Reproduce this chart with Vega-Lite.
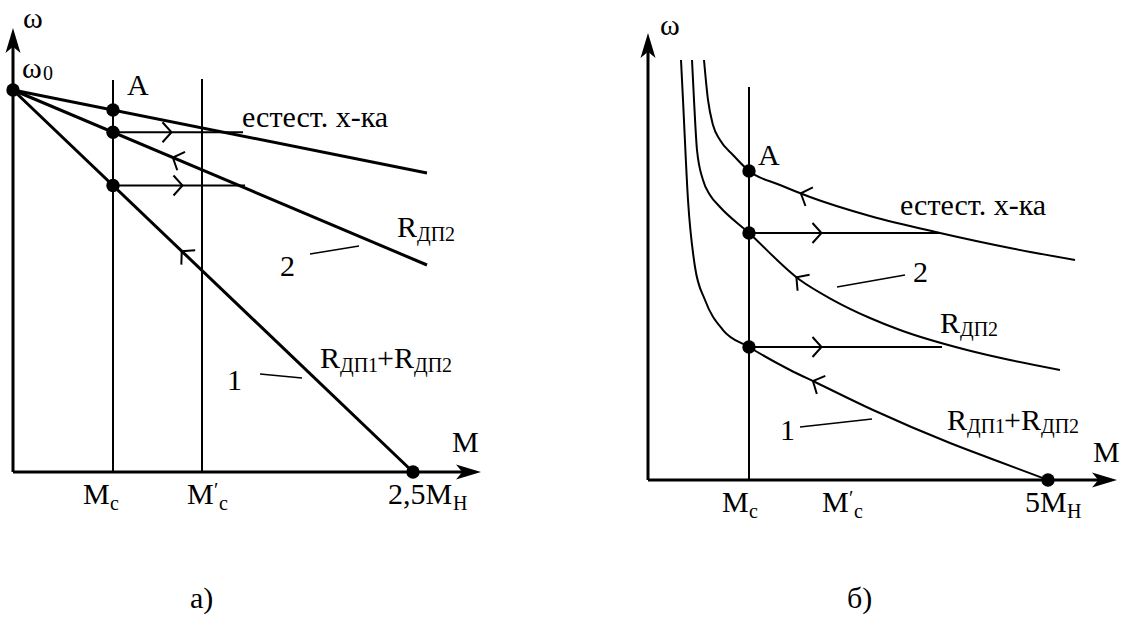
{
  "$schema": "https://vega.github.io/schema/vega-lite/v6.json",
  "padding": 0,
  "spacing": 0,
  "background": "white",
  "config": {"view": {"stroke": null}, "text": {"font": "'Liberation Serif', 'Times New Roman', Times, serif"}},
  "datasets": {
    "segA": [
      {"kind": "axis", "x": 0, "y": 0, "x2": 0, "y2": 1.1178},
      {"kind": "axis", "x": 0, "y": 0, "x2": 2.85625, "y2": 0},
      {"kind": "char", "x": 0, "y": 1, "x2": 2.5875, "y2": 0.7827},
      {"kind": "char", "x": 0, "y": 1, "x2": 2.5875, "y2": 0.5419},
      {"kind": "char", "x": 0, "y": 1, "x2": 2.5, "y2": 0},
      {"kind": "thin", "x": 0.625, "y": 0, "x2": 0.625, "y2": 1.0262},
      {"kind": "thin", "x": 1.18125, "y": 0, "x2": 1.18125, "y2": 1.0288},
      {"kind": "thin", "x": 0.625, "y": 0.8893, "x2": 1.4375, "y2": 0.8893},
      {"kind": "thin", "x": 0.625, "y": 0.75, "x2": 1.45, "y2": 0.75},
      {"kind": "leader", "x": 1.85625, "y": 0.5707, "x2": 2.1625, "y2": 0.5916},
      {"kind": "leader", "x": 1.54375, "y": 0.2565, "x2": 1.80625, "y2": 0.2461}
    ],
    "segB": [
      {"kind": "axis", "x": 0, "y": 0, "x2": 0, "y2": 1.3916},
      {"kind": "axis", "x": 0, "y": 0, "x2": 5.7125, "y2": 0},
      {"kind": "thin", "x": 1.2625, "y": 0, "x2": 1.2625, "y2": 1.2718},
      {"kind": "thin", "x": 1.2625, "y": 0.7994, "x2": 3.65, "y2": 0.7994},
      {"kind": "thin", "x": 1.2625, "y": 0.4304, "x2": 3.675, "y2": 0.4304},
      {"kind": "leader", "x": 2.3625, "y": 0.6246, "x2": 3.2125, "y2": 0.6634},
      {"kind": "leader", "x": 1.9, "y": 0.1715, "x2": 2.8, "y2": 0.1974}
    ],
    "curvesB": [
      {"curve": "естест.", "x": 0.7, "y": 1.3592},
      {"curve": "естест.", "x": 0.75, "y": 1.2298},
      {"curve": "естест.", "x": 0.8125, "y": 1.1489},
      {"curve": "естест.", "x": 0.9, "y": 1.1003},
      {"curve": "естест.", "x": 1.0625, "y": 1.0518},
      {"curve": "естест.", "x": 1.2625, "y": 1.0},
      {"curve": "естест.", "x": 1.65, "y": 0.9547},
      {"curve": "естест.", "x": 2.025, "y": 0.9159},
      {"curve": "естест.", "x": 2.775, "y": 0.8544},
      {"curve": "естест.", "x": 3.65, "y": 0.7994},
      {"curve": "естест.", "x": 4.525, "y": 0.7508},
      {"curve": "естест.", "x": 5.3375, "y": 0.712},
      {"curve": "2", "x": 0.55, "y": 1.3592},
      {"curve": "2", "x": 0.575, "y": 1.2298},
      {"curve": "2", "x": 0.6125, "y": 1.068},
      {"curve": "2", "x": 0.6875, "y": 0.9709},
      {"curve": "2", "x": 0.775, "y": 0.9223},
      {"curve": "2", "x": 0.9, "y": 0.8835},
      {"curve": "2", "x": 1.2625, "y": 0.7994},
      {"curve": "2", "x": 1.9, "y": 0.6472},
      {"curve": "2", "x": 2.3125, "y": 0.5825},
      {"curve": "2", "x": 2.775, "y": 0.5243},
      {"curve": "2", "x": 3.15, "y": 0.4854},
      {"curve": "2", "x": 3.9875, "y": 0.4207},
      {"curve": "2", "x": 4.525, "y": 0.3883},
      {"curve": "2", "x": 5.15, "y": 0.356},
      {"curve": "1", "x": 0.4125, "y": 1.3592},
      {"curve": "1", "x": 0.4375, "y": 1.2298},
      {"curve": "1", "x": 0.5, "y": 0.9061},
      {"curve": "1", "x": 0.5875, "y": 0.6893},
      {"curve": "1", "x": 0.7125, "y": 0.5825},
      {"curve": "1", "x": 0.9375, "y": 0.4854},
      {"curve": "1", "x": 1.2625, "y": 0.4304},
      {"curve": "1", "x": 1.775, "y": 0.356},
      {"curve": "1", "x": 2.1125, "y": 0.3139},
      {"curve": "1", "x": 2.8125, "y": 0.2265},
      {"curve": "1", "x": 3.775, "y": 0.1197},
      {"curve": "1", "x": 4.4, "y": 0.0583},
      {"curve": "1", "x": 5.0, "y": 0}
    ],
    "dotsA": [
      {"x": 0, "y": 1}, {"x": 0.625, "y": 0.9475}, {"x": 0.625, "y": 0.8893}, {"x": 0.625, "y": 0.75}, {"x": 2.5, "y": 0}
    ],
    "dotsB": [
      {"x": 1.2625, "y": 1.0}, {"x": 1.2625, "y": 0.7994}, {"x": 1.2625, "y": 0.4304}, {"x": 5.0, "y": 0}
    ],
    "headsA": [
      {"axis": "M", "x": 2.846875, "y": 0}, {"axis": "w", "x": 0, "y": 1.1296}
    ],
    "headsB": [
      {"axis": "M", "x": 5.70625, "y": 0}, {"axis": "w", "x": 0, "y": 1.4061}
    ],
    "chevA": [
      {"on": "h", "x": 0.9625, "y": 0.8893},
      {"on": "h", "x": 1.03125, "y": 0.75},
      {"on": "2", "x": 1.025, "y": 0.8185},
      {"on": "1", "x": 1.075, "y": 0.57}
    ],
    "chevB": [
      {"on": "h", "x": 2.1125, "y": 0.7994},
      {"on": "h", "x": 2.1125, "y": 0.4304},
      {"on": "n", "x": 1.9625, "y": 0.9222},
      {"on": "2", "x": 1.9, "y": 0.6472},
      {"on": "1", "x": 2.1125, "y": 0.3139}
    ],
    "textA": [
      {"label": "ω", "x": 0.0625, "y": 1.1623, "role": "main"},
      {"label": "ω", "x": 0.05625, "y": 1.0314, "role": "main"},
      {"label": "0", "x": 0.1875, "y": 1.0262, "role": "sub"},
      {"label": "A", "x": 0.7125, "y": 0.9869, "role": "main"},
      {"label": "естест. х-ка", "x": 1.43125, "y": 0.9031, "role": "main"},
      {"label": "R", "x": 2.4, "y": 0.6152, "role": "main"},
      {"label": "ДП2", "x": 2.525, "y": 0.6047, "role": "sub"},
      {"label": "2", "x": 1.66875, "y": 0.5131, "role": "main"},
      {"label": "R", "x": 1.91875, "y": 0.2723, "role": "main"},
      {"label": "ДП1", "x": 2.04375, "y": 0.2618, "role": "sub"},
      {"label": "+R", "x": 2.275, "y": 0.2723, "role": "main"},
      {"label": "ДП2", "x": 2.50625, "y": 0.2618, "role": "sub"},
      {"label": "1", "x": 1.3375, "y": 0.2147, "role": "main"},
      {"label": "M", "x": 2.74375, "y": 0.0524, "role": "main"},
      {"label": "M", "x": 0.4375, "y": -0.0838, "role": "main"},
      {"label": "с", "x": 0.60625, "y": -0.0995, "role": "sub"},
      {"label": "M", "x": 1.0875, "y": -0.0838, "role": "main"},
      {"label": "′", "x": 1.25625, "y": -0.0654, "role": "sub"},
      {"label": "с", "x": 1.2875, "y": -0.0995, "role": "sub"},
      {"label": "2,5M", "x": 2.34375, "y": -0.0838, "role": "main"},
      {"label": "Н", "x": 2.75, "y": -0.0995, "role": "sub"},
      {"label": "а)", "x": 1.10625, "y": -0.356, "role": "main"}
    ],
    "textB": [
      {"label": "ω", "x": 0.15, "y": 1.4401, "role": "main"},
      {"label": "A", "x": 1.375, "y": 1.0194, "role": "main"},
      {"label": "естест. х-ка", "x": 3.15, "y": 0.8576, "role": "main"},
      {"label": "2", "x": 3.3125, "y": 0.6408, "role": "main"},
      {"label": "R", "x": 3.65, "y": 0.4757, "role": "main"},
      {"label": "ДП2", "x": 3.9, "y": 0.466, "role": "sub"},
      {"label": "1", "x": 1.65, "y": 0.1294, "role": "main"},
      {"label": "R", "x": 3.7375, "y": 0.1618, "role": "main"},
      {"label": "ДП1", "x": 3.9875, "y": 0.1521, "role": "sub"},
      {"label": "+R", "x": 4.45, "y": 0.1618, "role": "main"},
      {"label": "ДП2", "x": 4.9125, "y": 0.1521, "role": "sub"},
      {"label": "M", "x": 5.5625, "y": 0.0583, "role": "main"},
      {"label": "M", "x": 0.925, "y": -0.1036, "role": "main"},
      {"label": "с", "x": 1.2625, "y": -0.123, "role": "sub"},
      {"label": "M", "x": 2.175, "y": -0.1036, "role": "main"},
      {"label": "′", "x": 2.5125, "y": -0.0809, "role": "sub"},
      {"label": "с", "x": 2.575, "y": -0.123, "role": "sub"},
      {"label": "5M", "x": 4.7125, "y": -0.1036, "role": "main"},
      {"label": "Н", "x": 5.2375, "y": -0.123, "role": "sub"},
      {"label": "б)", "x": 2.4875, "y": -0.4142, "role": "main"}
    ]
  },
  "hconcat": [
    {
      "width": 561,
      "height": 619,
      "encoding": {
        "x": {"field": "x", "type": "quantitative", "scale": {"domain": [-0.08125, 3.425], "nice": false, "zero": false}, "axis": null},
        "y": {"field": "y", "type": "quantitative", "scale": {"domain": [-0.384817, 1.235602], "nice": false, "zero": false}, "axis": null}
      },
      "layer": [
        {"data": {"name": "segA"}, "transform": [{"filter": "datum.kind === 'axis' || datum.kind === 'char'"}], "mark": {"type": "rule", "color": "black", "strokeWidth": 3}, "encoding": {"x2": {"field": "x2"}, "y2": {"field": "y2"}}},
        {"data": {"name": "segA"}, "transform": [{"filter": "datum.kind === 'thin'"}], "mark": {"type": "rule", "color": "black", "strokeWidth": 2}, "encoding": {"x2": {"field": "x2"}, "y2": {"field": "y2"}}},
        {"data": {"name": "segA"}, "transform": [{"filter": "datum.kind === 'leader'"}], "mark": {"type": "rule", "color": "black", "strokeWidth": 1.5}, "encoding": {"x2": {"field": "x2"}, "y2": {"field": "y2"}}},
        {"data": {"name": "headsA"}, "transform": [{"filter": "datum.axis === 'M'"}], "mark": {"type": "point", "shape": "M1,0L-1,-0.6L-0.5,0L-1,0.6Z", "size": 625, "filled": true, "color": "black", "opacity": 1, "angle": 0}},
        {"data": {"name": "headsA"}, "transform": [{"filter": "datum.axis === 'w'"}], "mark": {"type": "point", "shape": "M1,0L-1,-0.6L-0.5,0L-1,0.6Z", "size": 625, "filled": true, "color": "black", "opacity": 1, "angle": 270}},
        {"data": {"name": "chevA"}, "transform": [{"filter": "datum.on === 'h'"}], "mark": {"type": "point", "shape": "M-0.45,-1L0.45,0L-0.45,1", "size": 400, "filled": false, "color": "black", "strokeWidth": 2, "opacity": 1, "angle": 0}},
        {"data": {"name": "chevA"}, "transform": [{"filter": "datum.on === '2'"}], "mark": {"type": "point", "shape": "M-0.45,-1L0.45,0L-0.45,1", "size": 400, "filled": false, "color": "black", "strokeWidth": 2, "opacity": 1, "angle": 202.9}},
        {"data": {"name": "chevA"}, "transform": [{"filter": "datum.on === '1'"}], "mark": {"type": "point", "shape": "M-0.45,-1L0.45,0L-0.45,1", "size": 400, "filled": false, "color": "black", "strokeWidth": 2, "opacity": 1, "angle": 223.7}},
        {"data": {"name": "dotsA"}, "mark": {"type": "point", "shape": "circle", "size": 180, "filled": true, "color": "black", "opacity": 1}},
        {"data": {"name": "textA"}, "transform": [{"filter": "datum.role === 'main'"}], "mark": {"type": "text", "fontSize": 30, "align": "left", "baseline": "alphabetic", "color": "black"}, "encoding": {"text": {"field": "label"}}},
        {"data": {"name": "textA"}, "transform": [{"filter": "datum.role === 'sub'"}], "mark": {"type": "text", "fontSize": 20, "align": "left", "baseline": "alphabetic", "color": "black"}, "encoding": {"text": {"field": "label"}}}
      ]
    },
    {
      "width": 561,
      "height": 619,
      "encoding": {
        "x": {"field": "x", "type": "quantitative", "scale": {"domain": [-1.0875, 5.925], "nice": false, "zero": false}, "axis": null},
        "y": {"field": "y", "type": "quantitative", "scale": {"domain": [-0.449838, 1.553398], "nice": false, "zero": false}, "axis": null}
      },
      "layer": [
        {"data": {"name": "segB"}, "transform": [{"filter": "datum.kind === 'axis'"}], "mark": {"type": "rule", "color": "black", "strokeWidth": 3}, "encoding": {"x2": {"field": "x2"}, "y2": {"field": "y2"}}},
        {"data": {"name": "segB"}, "transform": [{"filter": "datum.kind === 'thin'"}], "mark": {"type": "rule", "color": "black", "strokeWidth": 2}, "encoding": {"x2": {"field": "x2"}, "y2": {"field": "y2"}}},
        {"data": {"name": "segB"}, "transform": [{"filter": "datum.kind === 'leader'"}], "mark": {"type": "rule", "color": "black", "strokeWidth": 1.5}, "encoding": {"x2": {"field": "x2"}, "y2": {"field": "y2"}}},
        {"data": {"name": "curvesB"}, "mark": {"type": "line", "interpolate": "monotone", "color": "black", "strokeWidth": 2}, "encoding": {"detail": {"field": "curve"}, "order": {"field": "x", "type": "quantitative"}}},
        {"data": {"name": "headsB"}, "transform": [{"filter": "datum.axis === 'M'"}], "mark": {"type": "point", "shape": "M1,0L-1,-0.6L-0.5,0L-1,0.6Z", "size": 625, "filled": true, "color": "black", "opacity": 1, "angle": 0}},
        {"data": {"name": "headsB"}, "transform": [{"filter": "datum.axis === 'w'"}], "mark": {"type": "point", "shape": "M1,0L-1,-0.6L-0.5,0L-1,0.6Z", "size": 625, "filled": true, "color": "black", "opacity": 1, "angle": 270}},
        {"data": {"name": "chevB"}, "transform": [{"filter": "datum.on === 'h'"}], "mark": {"type": "point", "shape": "M-0.45,-1L0.45,0L-0.45,1", "size": 400, "filled": false, "color": "black", "strokeWidth": 2, "opacity": 1, "angle": 0}},
        {"data": {"name": "chevB"}, "transform": [{"filter": "datum.on === 'n'"}], "mark": {"type": "point", "shape": "M-0.45,-1L0.45,0L-0.45,1", "size": 400, "filled": false, "color": "black", "strokeWidth": 2, "opacity": 1, "angle": 201.8}},
        {"data": {"name": "chevB"}, "transform": [{"filter": "datum.on === '2'"}], "mark": {"type": "point", "shape": "M-0.45,-1L0.45,0L-0.45,1", "size": 400, "filled": false, "color": "black", "strokeWidth": 2, "opacity": 1, "angle": 216.9}},
        {"data": {"name": "chevB"}, "transform": [{"filter": "datum.on === '1'"}], "mark": {"type": "point", "shape": "M-0.45,-1L0.45,0L-0.45,1", "size": 400, "filled": false, "color": "black", "strokeWidth": 2, "opacity": 1, "angle": 205}},
        {"data": {"name": "dotsB"}, "mark": {"type": "point", "shape": "circle", "size": 180, "filled": true, "color": "black", "opacity": 1}},
        {"data": {"name": "textB"}, "transform": [{"filter": "datum.role === 'main'"}], "mark": {"type": "text", "fontSize": 30, "align": "left", "baseline": "alphabetic", "color": "black"}, "encoding": {"text": {"field": "label"}}},
        {"data": {"name": "textB"}, "transform": [{"filter": "datum.role === 'sub'"}], "mark": {"type": "text", "fontSize": 20, "align": "left", "baseline": "alphabetic", "color": "black"}, "encoding": {"text": {"field": "label"}}}
      ]
    }
  ]
}
